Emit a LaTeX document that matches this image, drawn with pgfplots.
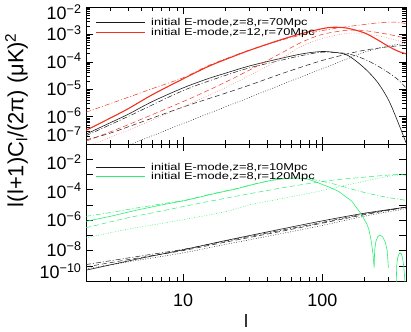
\documentclass[border=0pt]{standalone}
\usepackage{fontspec}
\setmainfont{Liberation Sans}
\newfontfamily\legfont[FakeStretch=1.29]{Liberation Sans}
\usepackage{pgfplots}
\pgfplotsset{compat=1.18}

\definecolor{cblack}{RGB}{25,25,25}
\definecolor{cred}{RGB}{240,50,30}
\definecolor{cgreen}{RGB}{40,240,110}

\tikzset{
  lsolid/.style={line width=0.6bp},
  ldash/.style={line width=0.5bp, dash pattern=on 5bp off 3bp},
  ldashdot/.style={line width=0.5bp, dash pattern=on 5bp off 2bp on 1bp off 2bp},
  ldot/.style={line width=0.5bp, dash pattern=on 0.8bp off 1.7bp},
  legtext/.style={anchor=base west, inner sep=0pt, font=\legfont\fontsize{10}{10}\selectfont},
}

\pgfplotsset{
  width=320bp, height=137bp, scale only axis,
  tick align=inside,
  major tick length=7bp, minor tick length=4bp,
  every tick/.style={line width=0.5bp, black},
  every axis/.append style={axis line style={line width=0.6bp, black}},
  yticklabel style={anchor=base east, yshift=-6.4bp, xshift=-1bp,
    font=\fontsize{18}{18}\selectfont},
  xticklabel style={anchor=base, yshift=-25bp,
    font=\fontsize{18}{18}\selectfont},
}

\begin{document}
\begin{tikzpicture}[x=1bp,y=1bp]
\path[use as bounding box] (0,0) rectangle (411,332);

% upper panel: r = 70 Mpc
\begin{axis}[at={(86bp,188bp)}, anchor=south west,
  xmode=log, ymode=log, xmin=2, xmax=400,
  xtick={10,100},
  minor xtick={2,3,4,5,6,7,8,9,20,30,40,50,60,70,80,90,200,300,400},
  xticklabels={},
  ymin=1e-7, ymax=1e-2,
  ytick={1e-7,1e-6,1e-5,1e-4,1e-3,1e-2},
  yticklabels={\raisebox{9bp}{10\textsuperscript{−7}},10\textsuperscript{−6},10\textsuperscript{−5},10\textsuperscript{−4},10\textsuperscript{−3},\raisebox{-6bp}{10\textsuperscript{−2}}},
]
% z = 8
\addplot[cblack, lsolid, smooth] coordinates {
 (2,2.29e-7) (3,6.03e-7) (4,1.20e-6) (6,3.55e-6) (10,1.12e-5) (15,2.40e-5)
 (20,3.80e-5) (30,7.08e-5) (50,1.32e-4) (70,1.91e-4) (90,2.29e-4) (110,2.34e-4)
 (150,1.78e-4) (200,6.03e-5) (250,1.78e-5) (300,3.98e-6) (350,6.31e-7) (400,1.12e-7)};
\addplot[cblack, ldashdot, smooth] coordinates {
 (2,2.00e-7) (4,1.00e-6) (10,8.91e-6) (20,3.16e-5) (30,6.03e-5) (50,1.12e-4)
 (70,1.66e-4) (100,2.24e-4) (150,2.00e-4) (200,1.26e-4) (250,7.08e-5)
 (300,3.98e-5) (350,2.24e-5) (400,1.12e-5)};
\addplot[cblack, ldash, smooth] coordinates {
 (2,1.41e-7) (3,2.51e-7) (5,6.31e-7) (10,2.24e-6) (20,7.08e-6) (30,1.41e-5)
 (50,3.55e-5) (70,6.31e-5) (100,1.12e-4) (150,1.91e-4) (200,2.63e-4)
 (300,3.55e-4) (400,3.98e-4)};
\addplot[cblack, ldot, smooth] coordinates {
 (3.5,5.62e-8) (4,8.91e-8) (6,2.00e-7) (10,5.62e-7) (20,2.24e-6) (30,5.01e-6)
 (50,1.41e-5) (100,5.62e-5) (150,1.26e-4) (200,2.24e-4) (300,3.80e-4) (400,4.68e-4)};
% z = 12
\addplot[cred, ldashdot, smooth] coordinates {
 (2,1.45e-6) (4,5.01e-6) (6,1.05e-5) (10,2.63e-5) (15,7.08e-5) (20,1.26e-4)
 (30,2.69e-4) (50,6.03e-4) (70,9.33e-4) (100,1.38e-3) (150,1.91e-3)
 (200,2.29e-3) (250,2.63e-3) (320,2.82e-3) (360,2.75e-3) (400,2.40e-3)};
\addplot[cred, ldash, smooth] coordinates {
 (2,1.26e-7) (4,5.01e-7) (10,3.55e-6) (15,8.91e-6) (20,1.78e-5) (30,5.01e-5)
 (50,2.00e-4) (70,5.01e-4) (100,1.00e-3) (150,1.41e-3) (200,1.38e-3)
 (300,1.00e-3) (400,7.24e-4)};
\addplot[cred!60, ldot, smooth] coordinates {
 (2,7.94e-8) (4,3.16e-7) (10,2.24e-6) (15,5.89e-6) (20,1.12e-5) (30,3.16e-5)
 (50,1.26e-4) (70,3.55e-4) (100,7.08e-4) (160,1.12e-3) (250,8.91e-4) (400,4.90e-4)};
\addplot[cred, line width=1.1bp, smooth] coordinates {
 (2,3.16e-7) (3,8.91e-7) (4,1.91e-6) (6,6.31e-6) (10,2.40e-5) (15,6.61e-5)
 (20,1.20e-4) (30,2.63e-4) (50,6.31e-4) (70,1.05e-3) (100,1.62e-3) (120,1.82e-3)
 (150,1.70e-3) (200,1.15e-3) (250,6.31e-4) (300,3.63e-4) (350,2.45e-4) (400,1.95e-4)};
\end{axis}

% lower panel: z = 8
\begin{axis}[at={(86bp,51bp)}, anchor=south west,
  xmode=log, ymode=log, xmin=2, xmax=400,
  xtick={10,100},
  minor xtick={2,3,4,5,6,7,8,9,20,30,40,50,60,70,80,90,200,300,400},
  xticklabels={10,100},
  ymin=1e-10, ymax=1e-1,
  ytick={1e-10,1e-9,1e-8,1e-7,1e-6,1e-5,1e-4,1e-3,1e-2,1e-1},
  yticklabels={\raisebox{9bp}{10\textsuperscript{−10}},,10\textsuperscript{−8},,10\textsuperscript{−6},,\raisebox{-2bp}{10\textsuperscript{−4}},,\raisebox{-4bp}{10\textsuperscript{−2}},},
  yminorticks=false,
  xlabel={l},
  xlabel style={at={(axis description cs:0.5,0)}, anchor=base, yshift=-46bp,
    font=\fontsize{18}{18}\selectfont},
]
% r = 10 Mpc
\addplot[cblack, lsolid, smooth] coordinates {
 (2,5.13e-10) (5,3.16e-9) (10,1.12e-8) (20,4.47e-8) (50,2.51e-7) (100,8.91e-7)
 (200,2.82e-6) (400,7.08e-6)};
\addplot[cblack, ldash, smooth] coordinates {
 (2,8.51e-10) (5,3.55e-9) (10,1.00e-8) (20,3.55e-8) (50,1.78e-7) (100,6.31e-7)
 (200,2.24e-6) (400,7.08e-6)};
\addplot[cblack, ldashdot, smooth] coordinates {
 (2,1.20e-9) (5,4.47e-9) (10,1.20e-8) (20,4.17e-8) (50,2.09e-7) (100,7.08e-7)
 (200,2.51e-6) (400,7.08e-6)};
\addplot[cblack, ldot, smooth] coordinates {
 (2,6.31e-10) (5,2.51e-9) (10,7.08e-9) (20,2.51e-8) (50,1.26e-7) (100,4.47e-7)
 (200,1.78e-6) (400,5.62e-6)};
% r = 120 Mpc
\addplot[cgreen, ldashdot, smooth] coordinates {
 (2,1.78e-6) (3,3.16e-6) (5,7.08e-6) (8,1.41e-5) (10.5,2.09e-5) (16,5.25e-5)
 (24,1.17e-4) (33,2.40e-4) (44,4.17e-4) (60,5.75e-4) (80,5.01e-4) (100,3.55e-4)
 (130,2.00e-4) (165,1.05e-4) (200,6.61e-5) (250,4.17e-5) (300,3.02e-5) (400,2.00e-5)};
\addplot[cgreen, ldash, smooth] coordinates {
 (2,3.16e-7) (4,1.41e-6) (7,3.98e-6) (13,1.26e-5) (25,3.98e-5) (50,1.26e-4)
 (80,2.51e-4) (120,4.27e-4) (200,6.61e-4) (300,9.12e-4) (350,1.00e-3) (400,8.91e-4)};
\addplot[cgreen, ldot, smooth] coordinates {
 (2,6.76e-8) (4,2.51e-7) (10,1.07e-6) (20,3.55e-6) (30,1.00e-5) (50,2.51e-5)
 (94,7.76e-5) (150,2.00e-4) (214,4.07e-4) (300,7.59e-4) (350,9.12e-4) (400,1.00e-3)};
\addplot[cgreen, lsolid] coordinates {
 (2,8.32e-7) (3,1.78e-6) (4.6,4.47e-6) (7,1.00e-5) (10.5,2.00e-5) (16,5.01e-5)
 (24,1.12e-4) (33,2.40e-4) (44,4.27e-4) (55,5.50e-4) (65,5.89e-4) (80,4.79e-4)
 (94,2.75e-4) (110,1.58e-4) (131,7.76e-5) (163,1.74e-5) (192,2.29e-6)
 (210,5.01e-7) (217,2.24e-7) (226,3.16e-8) (232,5.01e-9) (236,7.41e-10)
 (238,1.00e-8) (243,3.98e-8) (250,7.94e-8) (260,1.05e-7) (272,7.94e-8)
 (284,3.55e-8) (293,1.00e-8) (299,7.41e-10)};
\addplot[cgreen, lsolid] coordinates {
 (340,5.01e-11) (343,1.00e-9) (348,3.16e-9) (355,5.62e-9) (362,7.24e-9)
 (370,6.03e-9) (378,3.16e-9) (385,1.00e-9) (390,2.51e-10) (395,5.01e-11)};
\end{axis}

% legends (line samples and labels), picture coordinates in bp
\draw[cblack, lsolid] (96,310) -- (145,310);
\node[legtext] at (151,307) {initial E-mode,z=8,r=70Mpc};
\draw[cred, line width=0.9bp] (96,300) -- (145,300);
\node[legtext] at (151,297) {initial E-mode,z=12,r=70Mpc};
\draw[cblack, lsolid] (96,165) -- (145,165);
\node[legtext] at (151,162) {initial E-mode,z=8,r=10Mpc};
\draw[cgreen, lsolid] (96,155.7) -- (145,155.7);
\node[legtext] at (151,152.7) {initial E-mode,z=8,r=120Mpc};

\node[rotate=90, anchor=base, font=\fontsize{22}{22}\selectfont]
  at (23.4,212) {l(l+1)C\textsubscript{l}/(2π) (μK)\textsuperscript{2}};
\end{tikzpicture}
\end{document}
